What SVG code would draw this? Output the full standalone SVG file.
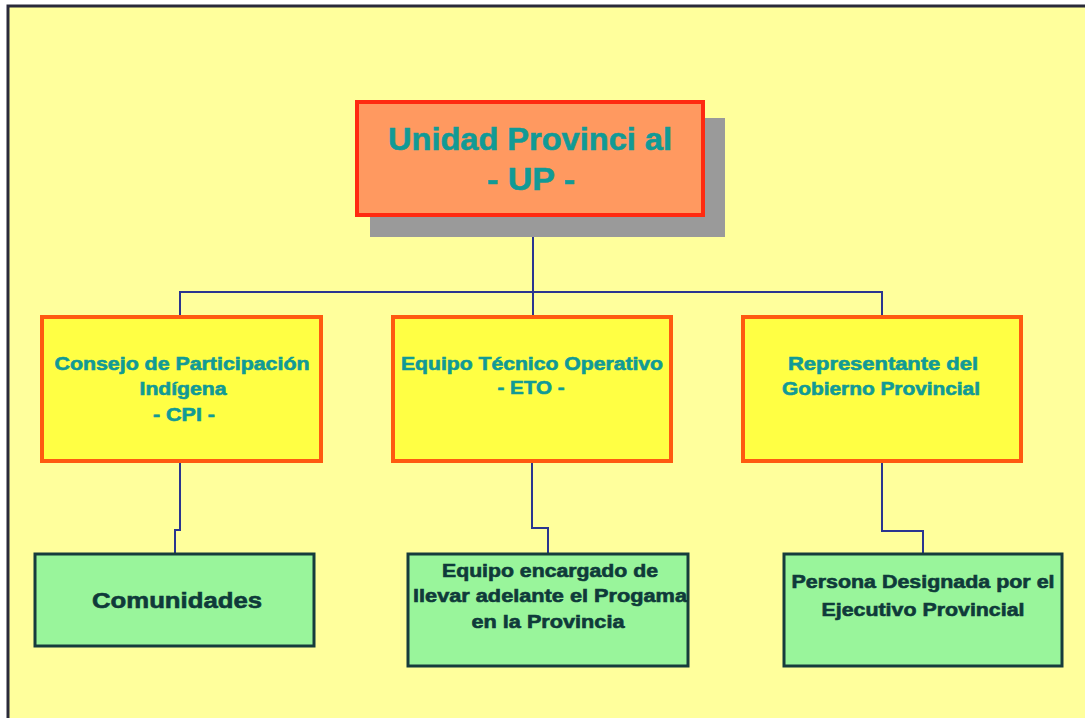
<svg xmlns="http://www.w3.org/2000/svg" width="1085" height="718" viewBox="0 0 1085 718">
<style>
.t{font-family:"Liberation Sans",Arial,sans-serif;font-weight:bold;text-anchor:middle;stroke-width:0.6}
.teal{fill:#119a96;stroke:#119a96}
.dark{fill:#0f3a3a;stroke:#0f3a3a}
.mid{fill:#ffff44;stroke:#ff5a10;stroke-width:4}
.low{fill:#99f59b;stroke:#163c3c;stroke-width:3}
.con{fill:none;stroke:#2a3590;stroke-width:2}
</style>
<rect x="0" y="0" width="1085" height="718" fill="#ffffff"/>
<rect x="8" y="6" width="1090" height="720" fill="#ffff9c" stroke="#2a2a3a" stroke-width="3"/>
<g id="connectors">
<path class="con" d="M533,217 V292 M180,317 V292 H882 V317 M533,292 V317"/>
<path class="con" d="M180,463 V530 H175 V553"/>
<path class="con" d="M532,463 V528 H548 V553"/>
<path class="con" d="M882,463 V531 H923 V553"/>
</g>
<g id="up">
<rect x="370" y="118" width="355" height="119" fill="#9a9a9a"/>
<rect x="357" y="102" width="346" height="113" fill="#ff9960" stroke="#ff2a10" stroke-width="4"/>
<text class="t teal" x="530" y="150" font-size="31" textLength="284" lengthAdjust="spacingAndGlyphs">Unidad Provinci al</text>
<text class="t teal" x="531" y="190" font-size="31" textLength="88" lengthAdjust="spacingAndGlyphs">- UP -</text>
</g>
<g id="cpi">
<rect class="mid" x="42" y="317" width="279" height="144"/>
<text class="t teal" x="182" y="370" font-size="18" textLength="255" lengthAdjust="spacingAndGlyphs">Consejo de Participación</text>
<text class="t teal" x="183" y="395" font-size="18" textLength="87" lengthAdjust="spacingAndGlyphs">Indígena</text>
<text class="t teal" x="184" y="421" font-size="18" textLength="62" lengthAdjust="spacingAndGlyphs">- CPI -</text>
</g>
<g id="eto">
<rect class="mid" x="393" y="317" width="278" height="144"/>
<text class="t teal" x="532" y="370" font-size="18" textLength="262" lengthAdjust="spacingAndGlyphs">Equipo  Técnico Operativo</text>
<text class="t teal" x="531" y="394" font-size="18" textLength="67" lengthAdjust="spacingAndGlyphs">- ETO -</text>
</g>
<g id="rep">
<rect class="mid" x="743" y="317" width="278" height="144"/>
<text class="t teal" x="883" y="370" font-size="18" textLength="190" lengthAdjust="spacingAndGlyphs">Representante del</text>
<text class="t teal" x="881" y="395" font-size="18" textLength="198" lengthAdjust="spacingAndGlyphs">Gobierno Provincial</text>
</g>
<g id="comunidades">
<rect class="low" x="35" y="554" width="279" height="92"/>
<text class="t dark" x="177" y="608" font-size="22" textLength="170" lengthAdjust="spacingAndGlyphs">Comunidades</text>
</g>
<g id="equipo">
<rect class="low" x="408" y="554" width="280" height="112"/>
<text class="t dark" x="550" y="577" font-size="18" textLength="216" lengthAdjust="spacingAndGlyphs">Equipo encargado de</text>
<text class="t dark" x="550" y="602" font-size="18" textLength="274" lengthAdjust="spacingAndGlyphs">llevar adelante el Progama</text>
<text class="t dark" x="548" y="628" font-size="18" textLength="153" lengthAdjust="spacingAndGlyphs">en la Provincia</text>
</g>
<g id="persona">
<rect class="low" x="784" y="554" width="278" height="112"/>
<text class="t dark" x="923" y="588" font-size="18" textLength="263" lengthAdjust="spacingAndGlyphs">Persona Designada por el</text>
<text class="t dark" x="923" y="616" font-size="18" textLength="203" lengthAdjust="spacingAndGlyphs">Ejecutivo Provincial</text>
</g>
</svg>
